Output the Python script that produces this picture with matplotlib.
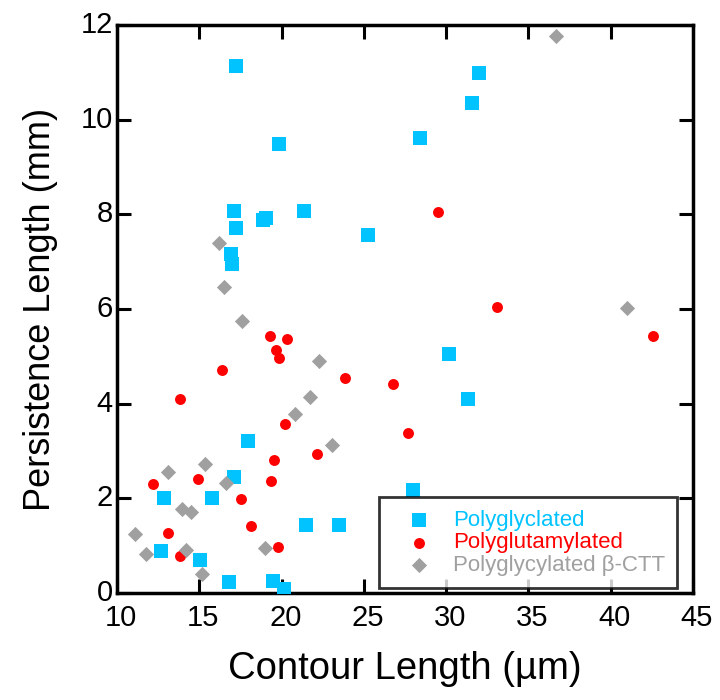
import matplotlib
matplotlib.use("Agg")
import matplotlib.pyplot as plt
from matplotlib.transforms import ScaledTranslation

plt.rcParams['font.family'] = ['Liberation Sans', 'DejaVu Sans']

# Polyglyclated (blue squares)
gly_x = [17.21, 19.84, 17.11, 17.21, 18.87, 19.03, 21.35, 25.23, 16.91, 17.01,
         32.02, 31.60, 28.44, 30.18, 31.35, 28.00, 17.96, 17.09, 12.87, 15.78,
         21.47, 23.47, 12.67, 15.07, 16.81, 19.50, 20.12]
gly_y = [11.14, 9.48, 8.07, 7.72, 7.88, 7.93, 8.07, 7.56, 7.16, 6.96,
         10.98, 10.36, 9.62, 5.04, 4.10, 2.18, 3.22, 2.45, 2.01, 2.01,
         1.43, 1.43, 0.89, 0.70, 0.23, 0.25, 0.08]

# Polyglutamylated (red circles)
glu_x = [29.53, 33.07, 42.56, 19.27, 20.35, 19.64, 19.86, 16.38, 23.84, 26.80,
         13.84, 20.22, 27.70, 22.16, 19.56, 12.20, 14.91, 19.35, 17.53, 13.07,
         18.12, 19.78, 13.82]
glu_y = [8.06, 6.05, 5.43, 5.43, 5.36, 5.13, 4.96, 4.72, 4.55, 4.42,
         4.09, 3.58, 3.37, 2.94, 2.80, 2.30, 2.40, 2.37, 1.99, 1.26,
         1.42, 0.98, 0.78]

# Polyglycylated beta-CTT (gray diamonds)
ctt_x = [36.65, 40.99, 16.20, 16.50, 17.58, 22.30, 21.70, 20.79, 23.07, 15.35,
         13.11, 16.61, 13.98, 14.48, 11.09, 11.76, 14.18, 18.99, 15.15]
ctt_y = [11.78, 6.03, 7.40, 6.46, 5.75, 4.91, 4.14, 3.79, 3.13, 2.72,
         2.56, 2.32, 1.77, 1.71, 1.24, 0.82, 0.91, 0.94, 0.39]

x_ticks = [10, 15, 20, 25, 30, 35, 40, 45]
y_ticks = [0, 2, 4, 6, 8, 10, 12]

blue = '#00C3FF'
red = '#FF0000'
gray = '#A0A0A0'

fig = plt.figure(figsize=(7.2, 7.0), dpi=100)
ax = fig.add_axes([0.1625, 0.153, 0.8, 0.811])

ax.scatter(gly_x, gly_y, marker='s', s=90, color=blue, linewidths=0, label='Polyglyclated', zorder=3)
ax.scatter(glu_x, glu_y, marker='o', s=62, color=red, linewidths=0, label='Polyglutamylated', zorder=3)
ax.scatter(ctt_x, ctt_y, marker='D', s=60, color=gray, linewidths=0, label='Polyglycylated β-CTT', zorder=3)

ax.set_xlim(10, 45)
ax.set_ylim(0, 12)
ax.set_xticks(x_ticks)
ax.set_yticks(y_ticks)
ax.tick_params(direction='in', length=10, width=2.2, labelsize=21, top=True, right=True)
ax.tick_params(axis='x', pad=8)
ax.tick_params(axis='y', pad=3)
for sp in ax.spines.values():
    sp.set_linewidth(2.5)

# small offsets of tick labels as in the reference
for lab in ax.get_xticklabels():
    lab.set_transform(lab.get_transform() + ScaledTranslation(4 / 100, 0, fig.dpi_scale_trans))
for lab in ax.get_yticklabels():
    lab.set_transform(lab.get_transform() + ScaledTranslation(0, 3 / 100, fig.dpi_scale_trans))

ax.set_xlabel('Contour Length (µm)', fontsize=27.5, labelpad=14)
ax.set_ylabel('Persistence Length (mm)', fontsize=26, labelpad=16)

leg = ax.legend(loc='lower right', fontsize=16, frameon=True, fancybox=False,
                edgecolor='black', borderpad=0.55, handlelength=2.5, handletextpad=0.3,
                labelspacing=0.08, borderaxespad=0.0, bbox_to_anchor=(0.973, 0.008))
leg.get_frame().set_linewidth(2)
for txt, c in zip(leg.get_texts(), [blue, red, gray]):
    txt.set_color(c)

fig.savefig('out.png', dpi=100)
